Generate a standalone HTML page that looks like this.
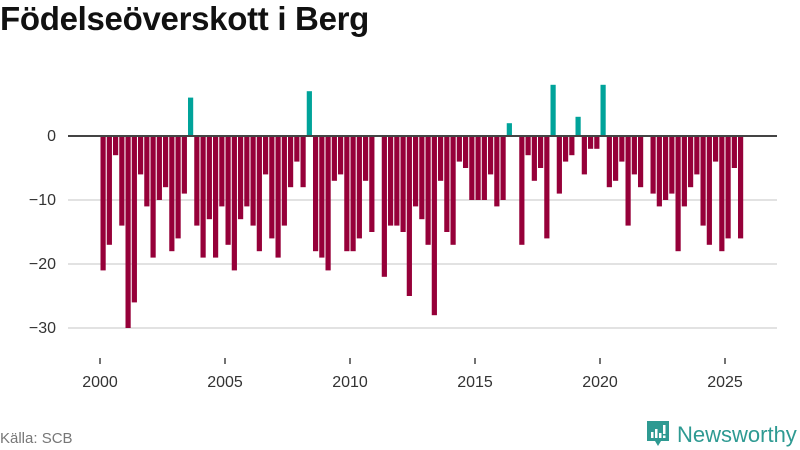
<!DOCTYPE html>
<html><head><meta charset="utf-8">
<style>
body{margin:0;width:800px;height:450px;background:#fff;font-family:"Liberation Sans","DejaVu Sans",sans-serif;overflow:hidden;position:relative}
#title{position:absolute;left:0;top:0px;font-size:33px;font-weight:bold;color:#111;letter-spacing:-0.3px}
#src{position:absolute;left:0;top:430px;font-size:15px;color:#777}
#logo{position:absolute;left:645px;top:420px;display:flex;align-items:center}
#logo span{font-size:22px;color:#2e9a92;margin-left:6px;font-weight:500}
</style></head><body>
<div id="title">Födelseöverskott i Berg</div>
<svg id="chart" width="800" height="450" style="position:absolute;left:0;top:0"></svg>
<div id="src">Källa: SCB</div>
<div id="logo">
<svg width="26" height="30" viewBox="0 0 26 30"><path d="M2 1h22v20H16l-3 5-3-5H2z" fill="#2e9a92"/><rect x="6" y="12" width="2.5" height="6" fill="#fff"/><rect x="10" y="9" width="2.5" height="9" fill="#fff"/><rect x="14" y="13" width="2.5" height="5" fill="#fff"/><rect x="18" y="5" width="2.5" height="9" fill="#fff"/><rect x="18" y="15.5" width="2.5" height="2.5" fill="#fff"/></svg>
<span>Newsworthy</span></div>
<script>
const values=[-21,-17,-3,-14,-30,-26,-6,-11,-19,-10,-8,-18,-16,-9,6,-14,-19,-13,-19,-11,-17,-21,-13,-11,-14,-18,-6,-16,-19,-14,-8,-4,-8,7,-18,-19,-21,-7,-6,-18,-18,-16,-7,-15,0,-22,-14,-14,-15,-25,-11,-13,-17,-28,-7,-15,-17,-4,-5,-10,-10,-10,-6,-11,-10,2,0,-17,-3,-7,-5,-16,8,-9,-4,-3,3,-6,-2,-2,8,-8,-7,-4,-14,-6,-8,0,-9,-11,-10,-9,-18,-11,-8,-6,-14,-17,-4,-18,-16,-5,-16];
const startYear=2000;
const yTicks=[0,-10,-20,-30];
const xTicks=[2000,2005,2010,2015,2020,2025];
const NS="http://www.w3.org/2000/svg";
const svg=document.getElementById('chart');
const x=t=>100+(t-2000)*25;
const y=v=>136-v*6.4;
function mk(tag,a){const e=document.createElementNS(NS,tag);for(const k in a)e.setAttribute(k,a[k]);svg.appendChild(e);return e;}
yTicks.forEach(v=>{
 if(v!==0){const g=mk('line',{x1:68,x2:777,y1:y(v),y2:y(v),stroke:'#e2e2e2','stroke-width':2});
 
 }
 const t=mk('text',{x:56,y:y(v)+5,'text-anchor':'end','font-size':16,fill:'#333','font-family':'Liberation Sans, sans-serif'});
 t.textContent=v===0?'0':'−'+Math.abs(v);
 
 
});
values.forEach((v,i)=>{
 const t=startYear+i/4;
 const x0=x(t)+0.5, w=5.2;
 const r=mk('rect',{x:x0,width:w,y:Math.min(y(v),y(0)),height:Math.abs(y(v)-y(0)),fill:v>=0?'#00a39a':'#960039'});
 
 
});
const z=mk('line',{x1:68,x2:777,y1:y(0),y2:y(0),stroke:'#444','stroke-width':2});


xTicks.forEach(yr=>{
 const l=mk('line',{x1:x(yr),x2:x(yr),y1:358,y2:364,stroke:'#444','stroke-width':1.5});
 
 
 const t=mk('text',{x:x(yr),y:387,'text-anchor':'middle','font-size':16,fill:'#333','font-family':'Liberation Sans, sans-serif'});
 t.textContent=yr;
 
 
});
</script>
</body></html>
